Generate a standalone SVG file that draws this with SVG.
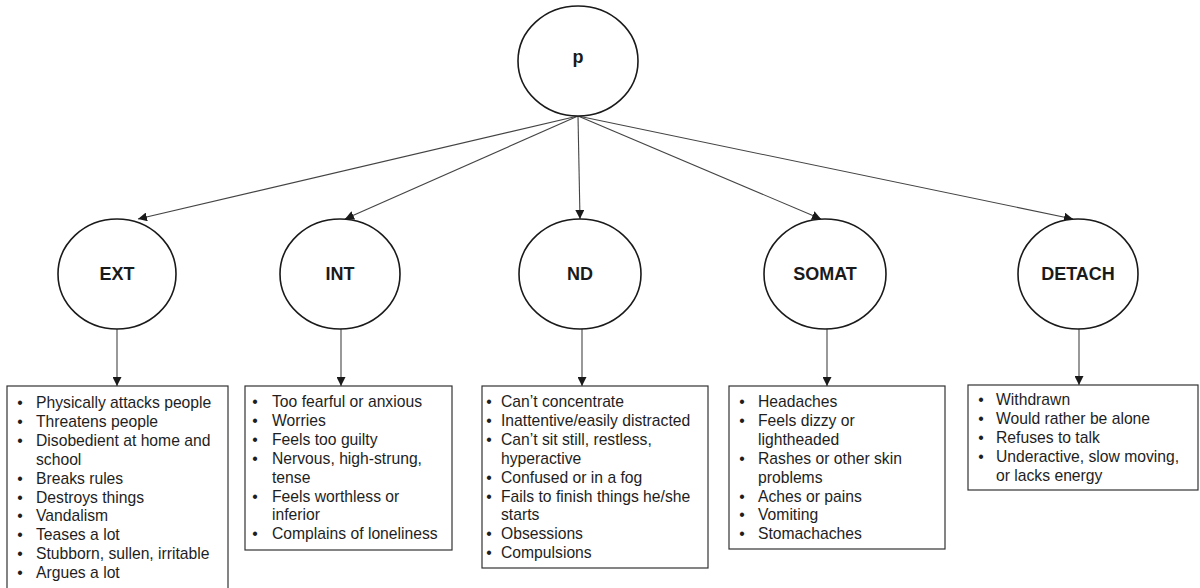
<svg xmlns="http://www.w3.org/2000/svg" width="1200" height="588" viewBox="0 0 1200 588">
<style>
.node{fill:#fff;stroke:#1a1a1a;stroke-width:1.6}
.lbl{font-family:"Liberation Sans",Arial,sans-serif;font-weight:bold;font-size:18px;fill:#1a1a1a;text-anchor:middle}
.box{fill:#fff;stroke:#333;stroke-width:1.2}
.it{font-family:"Liberation Sans",Arial,sans-serif;font-size:15.7px;fill:#1e1e1e}
.bl{font-family:"Liberation Sans",Arial,sans-serif;font-size:15.7px;fill:#1e1e1e;text-anchor:middle}
.con{stroke:#444;stroke-width:1.1;fill:none;marker-end:url(#ah)}
</style>
<defs>
<marker id="ah" viewBox="0 0 10 10" refX="10" refY="5" markerWidth="9" markerHeight="9" markerUnits="userSpaceOnUse" orient="auto">
<path d="M0,0 L10,5 L0,10 z" fill="#1a1a1a"/>
</marker>
</defs>
<rect width="1200" height="588" fill="#fff"/>
<g id="connectors">
<line class="con" x1="578" y1="116" x2="138" y2="219"/>
<line class="con" x1="578" y1="116" x2="345" y2="219"/>
<line class="con" x1="578" y1="116" x2="580" y2="219"/>
<line class="con" x1="578" y1="116" x2="821" y2="219"/>
<line class="con" x1="578" y1="116" x2="1073" y2="219"/>
<line class="con" x1="117" y1="329" x2="117" y2="386"/>
<line class="con" x1="341" y1="329" x2="341" y2="386"/>
<line class="con" x1="582" y1="329" x2="582" y2="386"/>
<line class="con" x1="827" y1="329" x2="827" y2="386"/>
<line class="con" x1="1079" y1="329" x2="1079" y2="385"/>
</g>
<g id="p">
<ellipse class="node" cx="578" cy="61" rx="60" ry="55"/>
<text class="lbl" x="578" y="63">p</text>
</g>
<g id="EXT">
<ellipse class="node" cx="117" cy="274" rx="59" ry="55"/>
<text class="lbl" x="117" y="280">EXT</text>
</g>
<g id="INT">
<ellipse class="node" cx="340" cy="274" rx="60" ry="55"/>
<text class="lbl" x="340" y="280">INT</text>
</g>
<g id="ND">
<ellipse class="node" cx="580" cy="274" rx="61" ry="55"/>
<text class="lbl" x="580" y="280">ND</text>
</g>
<g id="SOMAT">
<ellipse class="node" cx="825" cy="274" rx="61" ry="55"/>
<text class="lbl" x="825" y="280">SOMAT</text>
</g>
<g id="DETACH">
<ellipse class="node" cx="1078" cy="274" rx="60" ry="55"/>
<text class="lbl" x="1078" y="280">DETACH</text>
</g>
<g id="EXT-items">
<rect class="box" x="7" y="386" width="221" height="220"/>
<text class="bl" x="20" y="408">•</text><text class="it" x="36" y="408">Physically attacks people</text>
<text class="bl" x="20" y="426.9">•</text><text class="it" x="36" y="426.9">Threatens people</text>
<text class="bl" x="20" y="445.8">•</text><text class="it" x="36" y="445.8">Disobedient at home and</text>
<text class="it" x="36" y="464.7">school</text>
<text class="bl" x="20" y="483.6">•</text><text class="it" x="36" y="483.6">Breaks rules</text>
<text class="bl" x="20" y="502.5">•</text><text class="it" x="36" y="502.5">Destroys things</text>
<text class="bl" x="20" y="521.4">•</text><text class="it" x="36" y="521.4">Vandalism</text>
<text class="bl" x="20" y="540.3">•</text><text class="it" x="36" y="540.3">Teases a lot</text>
<text class="bl" x="20" y="559.2">•</text><text class="it" x="36" y="559.2">Stubborn, sullen, irritable</text>
<text class="bl" x="20" y="578.1">•</text><text class="it" x="36" y="578.1">Argues a lot</text>
</g>
<g id="INT-items">
<rect class="box" x="245" y="386" width="207" height="164"/>
<text class="bl" x="255" y="407">•</text><text class="it" x="272" y="407">Too fearful or anxious</text>
<text class="bl" x="255" y="425.9">•</text><text class="it" x="272" y="425.9">Worries</text>
<text class="bl" x="255" y="444.8">•</text><text class="it" x="272" y="444.8">Feels too guilty</text>
<text class="bl" x="255" y="463.7">•</text><text class="it" x="272" y="463.7">Nervous, high-strung,</text>
<text class="it" x="272" y="482.6">tense</text>
<text class="bl" x="255" y="501.5">•</text><text class="it" x="272" y="501.5">Feels worthless or</text>
<text class="it" x="272" y="520.4">inferior</text>
<text class="bl" x="255" y="539.3">•</text><text class="it" x="272" y="539.3">Complains of loneliness</text>
</g>
<g id="ND-items">
<rect class="box" x="482" y="386" width="226" height="182"/>
<text class="bl" x="489" y="407">•</text><text class="it" x="501" y="407">Can’t concentrate</text>
<text class="bl" x="489" y="425.9">•</text><text class="it" x="501" y="425.9">Inattentive/easily distracted</text>
<text class="bl" x="489" y="444.8">•</text><text class="it" x="501" y="444.8">Can’t sit still, restless,</text>
<text class="it" x="501" y="463.7">hyperactive</text>
<text class="bl" x="489" y="482.6">•</text><text class="it" x="501" y="482.6">Confused or in a fog</text>
<text class="bl" x="489" y="501.5">•</text><text class="it" x="501" y="501.5">Fails to finish things he/she</text>
<text class="it" x="501" y="520.4">starts</text>
<text class="bl" x="489" y="539.3">•</text><text class="it" x="501" y="539.3">Obsessions</text>
<text class="bl" x="489" y="558.2">•</text><text class="it" x="501" y="558.2">Compulsions</text>
</g>
<g id="SOMAT-items">
<rect class="box" x="729" y="386" width="216" height="163"/>
<text class="bl" x="742" y="407">•</text><text class="it" x="758" y="407">Headaches</text>
<text class="bl" x="742" y="425.9">•</text><text class="it" x="758" y="425.9">Feels dizzy or</text>
<text class="it" x="758" y="444.8">lightheaded</text>
<text class="bl" x="742" y="463.7">•</text><text class="it" x="758" y="463.7">Rashes or other skin</text>
<text class="it" x="758" y="482.6">problems</text>
<text class="bl" x="742" y="501.5">•</text><text class="it" x="758" y="501.5">Aches or pains</text>
<text class="bl" x="742" y="520.4">•</text><text class="it" x="758" y="520.4">Vomiting</text>
<text class="bl" x="742" y="539.3">•</text><text class="it" x="758" y="539.3">Stomachaches</text>
</g>
<g id="DETACH-items">
<rect class="box" x="968" y="385" width="230" height="105"/>
<text class="bl" x="981" y="405">•</text><text class="it" x="996" y="405">Withdrawn</text>
<text class="bl" x="981" y="423.9">•</text><text class="it" x="996" y="423.9">Would rather be alone</text>
<text class="bl" x="981" y="442.8">•</text><text class="it" x="996" y="442.8">Refuses to talk</text>
<text class="bl" x="981" y="461.7">•</text><text class="it" x="996" y="461.7">Underactive, slow moving,</text>
<text class="it" x="996" y="480.6">or lacks energy</text>
</g>
</svg>
